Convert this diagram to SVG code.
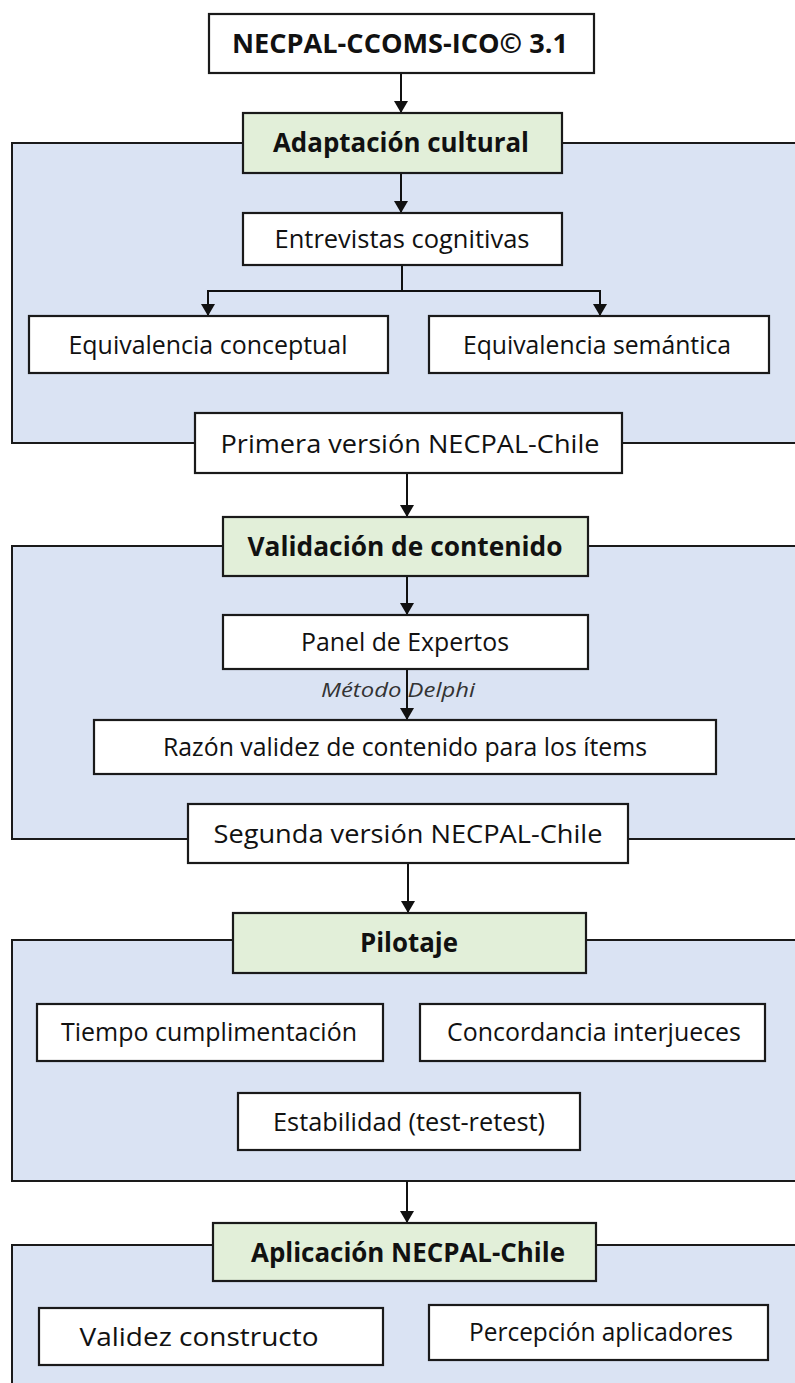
<svg xmlns="http://www.w3.org/2000/svg" width="795" height="1383" viewBox="0 0 795 1383">
<style>
.frame{fill:#dae3f3;stroke:#1a1a1a;stroke-width:2}
.box{fill:#ffffff;stroke:#1a1a1a;stroke-width:2.2}
.head{fill:#e2efd9;stroke:#1a1a1a;stroke-width:2.2}
.t{font-family:"Open Sans","Noto Sans","Liberation Sans",sans-serif;font-size:26px;fill:#111;text-anchor:middle}
.b{font-weight:bold}
.i{font-style:italic;font-size:20px;fill:#333}
.c{fill:none;stroke:#111;stroke-width:2}
</style>
<defs>
<marker id="ah" viewBox="0 0 12 14" refX="12" refY="7" markerWidth="12" markerHeight="14" markerUnits="userSpaceOnUse" orient="auto">
<path d="M0,0 L12,7 L0,14 Z" fill="#111"/>
</marker>
</defs>
<rect width="795" height="1383" fill="#ffffff"/>
<g id="frames">
<rect class="frame" x="12" y="143" width="800" height="300"/>
<rect class="frame" x="12" y="546" width="800" height="293"/>
<rect class="frame" x="12" y="940" width="800" height="241"/>
<rect class="frame" x="12" y="1245" width="800" height="200"/>
</g>
<g id="connectors">
<path class="c" d="M401,73 V113" marker-end="url(#ah)"/>
<path class="c" d="M401,173 V213" marker-end="url(#ah)"/>
<path class="c" d="M402,265 V291 M208,291 H600"/>
<path class="c" d="M208,290 V316" marker-end="url(#ah)"/>
<path class="c" d="M600,290 V316" marker-end="url(#ah)"/>
<path class="c" d="M407,473 V517" marker-end="url(#ah)"/>
<path class="c" d="M407,576 V615" marker-end="url(#ah)"/>
<path class="c" d="M407,669 V720" marker-end="url(#ah)"/>
<path class="c" d="M408,863 V913" marker-end="url(#ah)"/>
<path class="c" d="M407,1181 V1223" marker-end="url(#ah)"/>
<text class="t i" x="398" y="697" textLength="154" lengthAdjust="spacingAndGlyphs">Método Delphi</text>
</g>
<g id="n-necpal"><rect class="box" x="209" y="14" width="385" height="59"/><text class="t b" x="400" y="53" textLength="336" lengthAdjust="spacingAndGlyphs">NECPAL-CCOMS-ICO© 3.1</text></g>
<g id="n-adaptacion"><rect class="head" x="243" y="113" width="319" height="60"/><text class="t b" x="401" y="152" textLength="256" lengthAdjust="spacingAndGlyphs">Adaptación cultural</text></g>
<g id="n-entrevistas"><rect class="box" x="243" y="213" width="319" height="52"/><text class="t" x="402" y="248" textLength="255" lengthAdjust="spacingAndGlyphs">Entrevistas cognitivas</text></g>
<g id="n-eqconceptual"><rect class="box" x="29" y="316" width="359" height="57"/><text class="t" x="208" y="354" textLength="279" lengthAdjust="spacingAndGlyphs">Equivalencia conceptual</text></g>
<g id="n-eqsemantica"><rect class="box" x="429" y="316" width="340" height="57"/><text class="t" x="597" y="354" textLength="268" lengthAdjust="spacingAndGlyphs">Equivalencia semántica</text></g>
<g id="n-primera"><rect class="box" x="195" y="413" width="427" height="60"/><text class="t" x="410" y="453" textLength="379" lengthAdjust="spacingAndGlyphs">Primera versión NECPAL-Chile</text></g>
<g id="n-validacion"><rect class="head" x="223" y="517" width="365" height="59"/><text class="t b" x="405" y="556" textLength="315" lengthAdjust="spacingAndGlyphs">Validación de contenido</text></g>
<g id="n-panel"><rect class="box" x="223" y="615" width="365" height="54"/><text class="t" x="405" y="651" textLength="208" lengthAdjust="spacingAndGlyphs">Panel de Expertos</text></g>
<g id="n-razon"><rect class="box" x="94" y="720" width="622" height="54"/><text class="t" x="405" y="756" textLength="484" lengthAdjust="spacingAndGlyphs">Razón validez de contenido para los ítems</text></g>
<g id="n-segunda"><rect class="box" x="188" y="804" width="440" height="59"/><text class="t" x="408" y="843" textLength="389" lengthAdjust="spacingAndGlyphs">Segunda versión NECPAL-Chile</text></g>
<g id="n-pilotaje"><rect class="head" x="233" y="913" width="353" height="60"/><text class="t b" x="409" y="952" textLength="98" lengthAdjust="spacingAndGlyphs">Pilotaje</text></g>
<g id="n-tiempo"><rect class="box" x="37" y="1004" width="346" height="57"/><text class="t" x="209" y="1041" textLength="296" lengthAdjust="spacingAndGlyphs">Tiempo cumplimentación</text></g>
<g id="n-concordancia"><rect class="box" x="420" y="1004" width="345" height="57"/><text class="t" x="594" y="1041" textLength="294" lengthAdjust="spacingAndGlyphs">Concordancia interjueces</text></g>
<g id="n-estabilidad"><rect class="box" x="238" y="1093" width="342" height="57"/><text class="t" x="409" y="1131" textLength="272" lengthAdjust="spacingAndGlyphs">Estabilidad (test-retest)</text></g>
<g id="n-aplicacion"><rect class="head" x="213" y="1223" width="383" height="58"/><text class="t b" x="408" y="1262" textLength="314" lengthAdjust="spacingAndGlyphs">Aplicación NECPAL-Chile</text></g>
<g id="n-validez"><rect class="box" x="39" y="1308" width="344" height="57"/><text class="t" x="199" y="1346" textLength="239" lengthAdjust="spacingAndGlyphs">Validez constructo</text></g>
<g id="n-percepcion"><rect class="box" x="429" y="1305" width="339" height="55"/><text class="t" x="601" y="1341" textLength="264" lengthAdjust="spacingAndGlyphs">Percepción aplicadores</text></g>
</svg>
